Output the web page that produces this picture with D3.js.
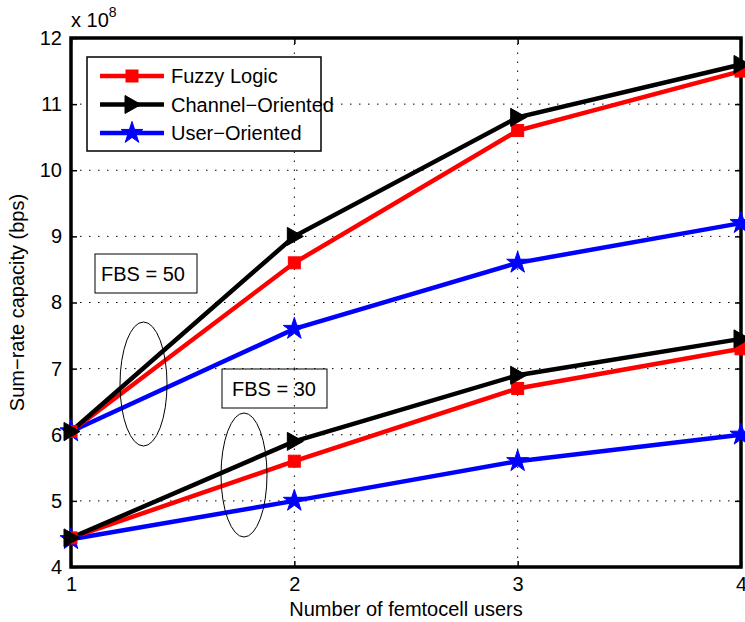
<!DOCTYPE html>
<html>
<head>
<meta charset="utf-8">
<script src="https://cdn.jsdelivr.net/npm/d3@7"></script>
<style>
  body { margin: 0; background: #fff; }
  text { font-family: "Liberation Sans", Arial, sans-serif; fill: #000; }
</style>
</head>
<body>
<svg id="chart"></svg>
<script>
// data (values in units of 1e8 bps)
const users = [1, 2, 3, 4];
const yTicks = [4, 5, 6, 7, 8, 9, 10, 11, 12];

const fuzzy50 = [6.05, 8.6, 10.6, 11.5];
const channel50 = [6.05, 9.0, 10.8, 11.6];
const user50 = [6.05, 7.6, 8.6, 9.2];

const fuzzy30 = [4.44, 5.6, 6.7, 7.3];
const channel30 = [4.44, 5.9, 6.9, 7.45];
const user30 = [4.42, 5.0, 5.6, 6.0];

const seriesNames = ["Fuzzy Logic", "Channel\u2212Oriented", "User\u2212Oriented"];
const seriesColors = ["#ff0000", "#000000", "#0000ff"];
const seriesMarkers = ["square", "triangle", "star"];

const WIDTH = 745;
const HEIGHT = 622;
const PADDING = { LEFT: 71, RIGHT: 4, TOP: 38, BOTTOM: 55 };
const FONT = "20px";

let svg = d3.select("#chart")
  .attr("width", WIDTH)
  .attr("height", HEIGHT);

let xScale = d3.scaleLinear()
  .domain([1, 4])
  .range([PADDING.LEFT, WIDTH - PADDING.RIGHT]);
let yScale = d3.scaleLinear()
  .domain([4, 12])
  .range([HEIGHT - PADDING.BOTTOM, PADDING.TOP]);

const x0 = xScale.range()[0], x1 = xScale.range()[1];
const y0 = yScale.range()[0], y1 = yScale.range()[1];

// dotted grid
svg.append("g").selectAll("line")
  .data(users.slice(1, -1))
  .enter().append("line")
    .attr("x1", d => xScale(d)).attr("x2", d => xScale(d))
    .attr("y1", y0).attr("y2", y1)
    .attr("stroke", "#000").attr("stroke-width", 1)
    .attr("stroke-dasharray", "1.5,7.5");
svg.append("g").selectAll("line")
  .data(yTicks.slice(1, -1))
  .enter().append("line")
    .attr("y1", d => yScale(d)).attr("y2", d => yScale(d))
    .attr("x1", x0).attr("x2", x1)
    .attr("stroke", "#000").attr("stroke-width", 1)
    .attr("stroke-dasharray", "1.5,7.5");

// axes
svg.append("g")
  .attr("transform", `translate(0,${y0})`)
  .call(d3.axisBottom(xScale).tickValues(users).tickFormat(d3.format("d")).tickSize(-6).tickPadding(10));
svg.append("g")
  .attr("transform", `translate(${x0},0)`)
  .call(d3.axisLeft(yScale).tickValues(yTicks).tickSize(-6).tickPadding(9));
svg.append("g")
  .attr("transform", `translate(${x1},0)`)
  .call(d3.axisRight(yScale).tickValues(yTicks).tickSize(-6).tickFormat(""));
svg.append("g")
  .attr("transform", `translate(0,${y1})`)
  .call(d3.axisTop(xScale).tickValues(users).tickSize(-6).tickFormat(""));

svg.selectAll(".domain").remove();
svg.selectAll(".tick line").attr("stroke", "#000").attr("stroke-width", 1.5);
svg.selectAll(".tick text").style("font-size", FONT).style("font-family", "Liberation Sans, Arial, sans-serif");

// box
svg.append("rect")
  .attr("x", x0).attr("y", y1)
  .attr("width", x1 - x0).attr("height", y0 - y1)
  .attr("fill", "none").attr("stroke", "#000").attr("stroke-width", 3.5);

// axis labels
svg.append("text")
  .attr("x", (x0 + x1) / 2)
  .attr("y", 616)
  .style("text-anchor", "middle")
  .style("font-size", FONT)
  .text("Number of femtocell users");

svg.append("text")
  .attr("transform", `translate(24,${(y0 + y1) / 2}) rotate(-90)`)
  .style("text-anchor", "middle")
  .style("font-size", FONT)
  .text("Sum\u2212rate capacity (bps)");

let exp = svg.append("text")
  .attr("x", 71).attr("y", 27)
  .style("font-size", FONT);
exp.append("tspan").text("x 10");
exp.append("tspan").attr("dy", -10).style("font-size", "14px").text("8");

// markers
function drawMarker(g, type, color, cx, cy) {
  if (type === "square") {
    g.append("rect")
      .attr("x", cx - 6).attr("y", cy - 6)
      .attr("width", 12).attr("height", 12)
      .attr("fill", color).attr("stroke", color);
  } else if (type === "triangle") {
    g.append("path")
      .attr("d", `M${cx - 7},${cy - 9}L${cx + 9},${cy}L${cx - 7},${cy + 9}Z`)
      .attr("fill", color).attr("stroke", color);
  } else {
    g.append("path")
      .attr("d", d3.symbol().type(d3.symbolStar).size(150)())
      .attr("transform", `translate(${cx},${cy})`)
      .attr("fill", color).attr("stroke", color);
  }
}

let line = d3.line()
  .x((d, i) => xScale(users[i]))
  .y(d => yScale(d));

const allSeries = [
  { values: user50, idx: 2 },
  { values: fuzzy50, idx: 0 },
  { values: channel50, idx: 1 },
  { values: user30, idx: 2 },
  { values: fuzzy30, idx: 0 },
  { values: channel30, idx: 1 }
];

let plot = svg.append("g");
allSeries.forEach(function(s) {
  plot.append("path")
    .datum(s.values)
    .attr("d", line)
    .attr("fill", "none")
    .attr("stroke", seriesColors[s.idx])
    .attr("stroke-width", 4.5);
});
allSeries.forEach(function(s) {
  s.values.forEach(function(v, i) {
    drawMarker(plot, seriesMarkers[s.idx], seriesColors[s.idx], xScale(users[i]), yScale(v));
  });
});

// legend
let legend = svg.append("g");
legend.append("rect")
  .attr("x", 87).attr("y", 57)
  .attr("width", 234).attr("height", 94)
  .attr("fill", "#fff").attr("stroke", "#000").attr("stroke-width", 1.5);
seriesNames.forEach(function(name, i) {
  let ly = 76 + i * 28.5;
  legend.append("line")
    .attr("x1", 100).attr("x2", 164)
    .attr("y1", ly).attr("y2", ly)
    .attr("stroke", seriesColors[i]).attr("stroke-width", 4.5);
  drawMarker(legend, seriesMarkers[i], seriesColors[i], 132, ly);
  legend.append("text")
    .attr("x", 171).attr("y", ly + 7)
    .style("font-size", FONT)
    .text(name);
});

// annotations
function textBox(x, y, w, h, tx, label) {
  svg.append("rect")
    .attr("x", x).attr("y", y).attr("width", w).attr("height", h)
    .attr("fill", "#fff").attr("stroke", "#000").attr("stroke-width", 1);
  svg.append("text")
    .attr("x", tx).attr("y", y + h / 2 + 7)
    .style("font-size", FONT)
    .text(label);
}
textBox(95, 254, 102, 39, 101, "FBS = 50");
textBox(222, 369, 105, 39, 232, "FBS = 30");

// the vertical grid line is drawn over the FBS = 30 box in the reference
svg.append("line")
  .attr("x1", xScale(2)).attr("x2", xScale(2))
  .attr("y1", 369).attr("y2", 408)
  .attr("stroke", "#000").attr("stroke-width", 1)
  .attr("stroke-dasharray", "1.5,7.5");

svg.append("ellipse")
  .attr("cx", 143.5).attr("cy", 384).attr("rx", 23.5).attr("ry", 62)
  .attr("fill", "none").attr("stroke", "#000").attr("stroke-width", 1);
svg.append("ellipse")
  .attr("cx", 244).attr("cy", 475).attr("rx", 23).attr("ry", 62)
  .attr("fill", "none").attr("stroke", "#000").attr("stroke-width", 1);
</script>
</body>
</html>
